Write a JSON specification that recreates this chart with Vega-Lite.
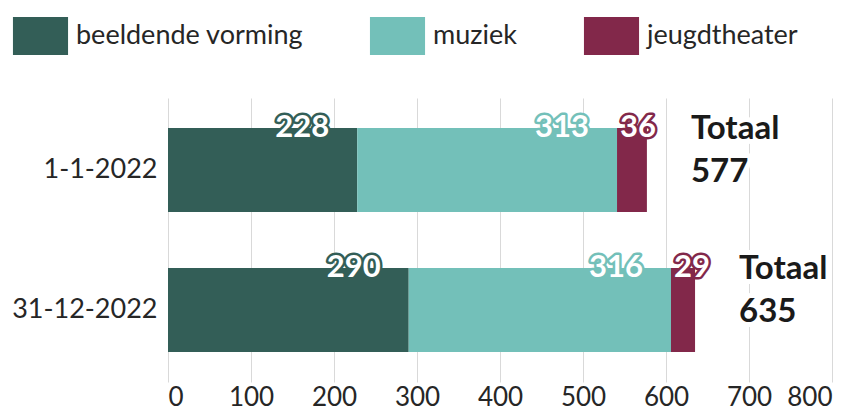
{
  "$schema": "https://vega.github.io/schema/vega-lite/v6.json",
  "width": 664,
  "height": 284,
  "autosize": {"type": "none"},
  "padding": {"left": 168, "top": 98, "right": 23, "bottom": 29},
  "background": "white",
  "config": {
    "font": "Lato",
    "view": {"stroke": null},
    "axis": {"labelFont": "Lato", "labelColor": "#262626", "domain": false, "ticks": false, "title": null},
    "legend": {
      "orient": "none",
      "legendX": -146.5,
      "legendY": -81,
      "direction": "horizontal",
      "symbolType": "M-1.45,-1H1.45V1H-1.45Z",
      "symbolSize": 1444,
      "symbolStrokeWidth": 0,
      "symbolOpacity": 1,
      "labelFont": "Lato",
      "labelFontSize": 27,
      "labelColor": "#262626",
      "labelOffset": 16.5,
      "labelLimit": 500,
      "columnPadding": 66,
      "padding": 0,
      "title": null
    }
  },
  "datasets": {
    "bars": [
      {"datum": "1-1-2022", "categorie": "beeldende vorming", "volgorde": 1, "aantal": 228},
      {"datum": "1-1-2022", "categorie": "muziek", "volgorde": 2, "aantal": 313},
      {"datum": "1-1-2022", "categorie": "jeugdtheater", "volgorde": 3, "aantal": 36},
      {"datum": "31-12-2022", "categorie": "beeldende vorming", "volgorde": 1, "aantal": 290},
      {"datum": "31-12-2022", "categorie": "muziek", "volgorde": 2, "aantal": 316},
      {"datum": "31-12-2022", "categorie": "jeugdtheater", "volgorde": 3, "aantal": 29}
    ],
    "totals": [
      {"datum": "1-1-2022", "totaal": 577},
      {"datum": "31-12-2022", "totaal": 635}
    ]
  },
  "layer": [
    {
      "data": {"name": "bars"},
      "transform": [
        {"stack": "aantal", "groupby": ["datum"], "sort": [{"field": "volgorde", "order": "ascending"}], "as": ["x0", "x1"]}
      ],
      "mark": {"type": "bar"},
      "encoding": {
        "y": {
          "field": "datum", "type": "nominal", "sort": ["1-1-2022", "31-12-2022"],
          "scale": {"paddingInner": 0.4, "paddingOuter": 0.214},
          "axis": {"labelFontSize": 27, "labelPadding": 11, "grid": false}
        },
        "x": {
          "field": "x0", "type": "quantitative",
          "scale": {"domain": [0, 800], "nice": false},
          "axis": {"values": [0, 100, 200, 300, 400, 500, 600, 700, 800], "grid": true, "gridColor": "#d9d9d9", "gridWidth": 1, "labelFontSize": 26, "labelPadding": 2}
        },
        "x2": {"field": "x1"},
        "color": {
          "field": "categorie", "type": "nominal",
          "scale": {"domain": ["beeldende vorming", "muziek", "jeugdtheater"], "range": ["#335E57", "#73C0B9", "#82284A"]},
          "legend": {"orient": "none"}
        }
      }
    },
    {
      "data": {"name": "bars"},
      "transform": [
        {"stack": "aantal", "groupby": ["datum"], "sort": [{"field": "volgorde", "order": "ascending"}], "as": ["x0", "x1"]},
        {"filter": "datum.categorie !== 'jeugdtheater'"}
      ],
      "mark": {"type": "text", "font": "Lato", "fontWeight": "bold", "fontSize": 31, "align": "right", "baseline": "middle", "dx": -28, "dy": -42, "strokeWidth": 5, "strokeJoin": "round"},
      "encoding": {
        "y": {"field": "datum", "type": "nominal", "sort": ["1-1-2022", "31-12-2022"]},
        "x": {"field": "x1", "type": "quantitative"},
        "text": {"field": "aantal", "type": "quantitative"},
        "color": {"field": "categorie", "type": "nominal", "legend": null},
        "stroke": {"field": "categorie", "type": "nominal", "scale": {"domain": ["beeldende vorming", "muziek", "jeugdtheater"], "range": ["#335E57", "#73C0B9", "#82284A"]}, "legend": null}
      }
    },
    {
      "data": {"name": "bars"},
      "transform": [
        {"stack": "aantal", "groupby": ["datum"], "sort": [{"field": "volgorde", "order": "ascending"}], "as": ["x0", "x1"]},
        {"filter": "datum.categorie !== 'jeugdtheater'"}
      ],
      "mark": {"type": "text", "font": "Lato", "fontWeight": "bold", "fontSize": 31, "align": "right", "baseline": "middle", "dx": -28, "dy": -42, "fill": "white"},
      "encoding": {
        "y": {"field": "datum", "type": "nominal", "sort": ["1-1-2022", "31-12-2022"]},
        "x": {"field": "x1", "type": "quantitative"},
        "text": {"field": "aantal", "type": "quantitative"}
      }
    },
    {
      "data": {"name": "bars"},
      "transform": [
        {"stack": "aantal", "groupby": ["datum"], "sort": [{"field": "volgorde", "order": "ascending"}], "as": ["x0", "x1"]},
        {"filter": "datum.categorie === 'jeugdtheater'"}
      ],
      "mark": {"type": "text", "font": "Lato", "fontWeight": "bold", "fontSize": 31, "align": "left", "baseline": "middle", "dx": 3, "dy": -42, "strokeWidth": 5, "strokeJoin": "round"},
      "encoding": {
        "y": {"field": "datum", "type": "nominal", "sort": ["1-1-2022", "31-12-2022"]},
        "x": {"field": "x0", "type": "quantitative"},
        "text": {"field": "aantal", "type": "quantitative"},
        "color": {"field": "categorie", "type": "nominal", "legend": null},
        "stroke": {"field": "categorie", "type": "nominal", "scale": {"domain": ["beeldende vorming", "muziek", "jeugdtheater"], "range": ["#335E57", "#73C0B9", "#82284A"]}, "legend": null}
      }
    },
    {
      "data": {"name": "bars"},
      "transform": [
        {"stack": "aantal", "groupby": ["datum"], "sort": [{"field": "volgorde", "order": "ascending"}], "as": ["x0", "x1"]},
        {"filter": "datum.categorie === 'jeugdtheater'"}
      ],
      "mark": {"type": "text", "font": "Lato", "fontWeight": "bold", "fontSize": 31, "align": "left", "baseline": "middle", "dx": 3, "dy": -42, "fill": "white"},
      "encoding": {
        "y": {"field": "datum", "type": "nominal", "sort": ["1-1-2022", "31-12-2022"]},
        "x": {"field": "x0", "type": "quantitative"},
        "text": {"field": "aantal", "type": "quantitative"}
      }
    },
    {
      "data": {"name": "totals"},
      "mark": {"type": "text", "font": "Lato", "fontWeight": "bold", "fontSize": 33, "align": "left", "baseline": "middle", "dx": 44, "dy": -41, "fill": "#1a1a1a", "stroke": "white", "strokeWidth": 10, "strokeJoin": "round"},
      "encoding": {
        "y": {"field": "datum", "type": "nominal", "sort": ["1-1-2022", "31-12-2022"]},
        "x": {"field": "totaal", "type": "quantitative"},
        "text": {"value": "Totaal"}
      }
    },
    {
      "data": {"name": "totals"},
      "mark": {"type": "text", "font": "Lato", "fontWeight": "bold", "fontSize": 33, "align": "left", "baseline": "middle", "dx": 44, "dy": 2, "fill": "#1a1a1a", "stroke": "white", "strokeWidth": 10, "strokeJoin": "round"},
      "encoding": {
        "y": {"field": "datum", "type": "nominal", "sort": ["1-1-2022", "31-12-2022"]},
        "x": {"field": "totaal", "type": "quantitative"},
        "text": {"field": "totaal", "type": "quantitative"}
      }
    },
    {
      "data": {"name": "totals"},
      "mark": {"type": "text", "font": "Lato", "fontWeight": "bold", "fontSize": 33, "align": "left", "baseline": "middle", "dx": 44, "dy": -41, "fill": "#1a1a1a"},
      "encoding": {
        "y": {"field": "datum", "type": "nominal", "sort": ["1-1-2022", "31-12-2022"]},
        "x": {"field": "totaal", "type": "quantitative"},
        "text": {"value": "Totaal"}
      }
    },
    {
      "data": {"name": "totals"},
      "mark": {"type": "text", "font": "Lato", "fontWeight": "bold", "fontSize": 33, "align": "left", "baseline": "middle", "dx": 44, "dy": 2, "fill": "#1a1a1a"},
      "encoding": {
        "y": {"field": "datum", "type": "nominal", "sort": ["1-1-2022", "31-12-2022"]},
        "x": {"field": "totaal", "type": "quantitative"},
        "text": {"field": "totaal", "type": "quantitative"}
      }
    }
  ]
}
